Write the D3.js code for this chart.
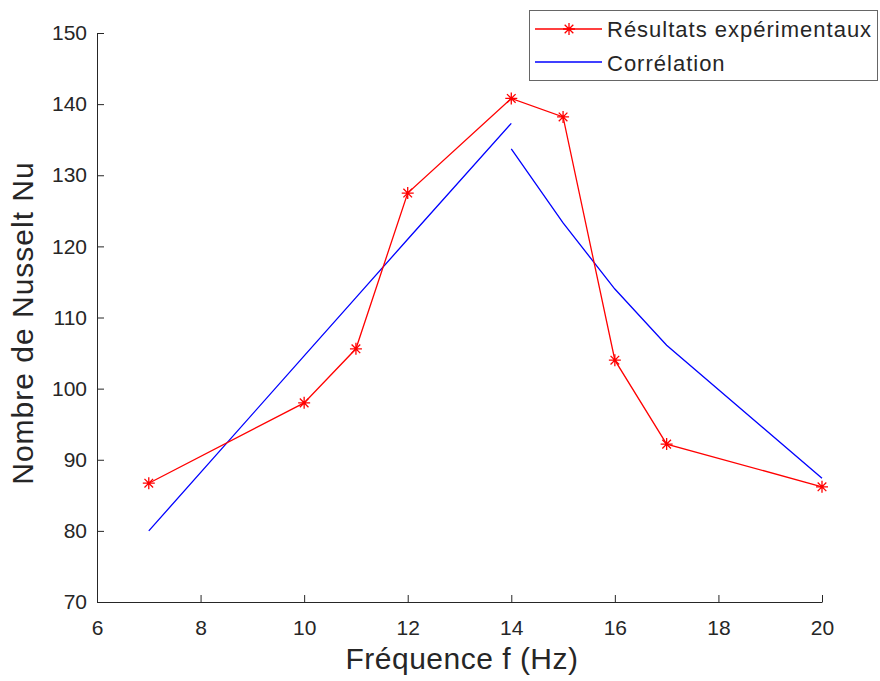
<!DOCTYPE html>
<html><head><meta charset="utf-8">
<script src="https://cdn.jsdelivr.net/npm/d3@7"></script>
<style>body{margin:0;background:#fff}svg{display:block}text{font-family:"Liberation Sans",Arial,sans-serif;fill:#262626}</style>
</head><body><svg id="c" width="880" height="681"></svg>
<script>
const expF = [7, 10, 11, 12, 14, 15, 16, 17, 20];
const expNu = [86.7, 98.0, 105.6, 127.5, 140.8, 138.2, 104.0, 92.2, 86.2];
const corrF1 = [7, 10, 11, 12, 14];
const corrNu1 = [80.0, 104.6, 112.8, 121.0, 137.3];
const corrF2 = [14, 15, 16, 17, 20];
const corrNu2 = [133.7, 123.3, 114.0, 106.1, 87.4];
const xTicks = [6, 8, 10, 12, 14, 16, 18, 20];
const yTicks = [70, 80, 90, 100, 110, 120, 130, 140, 150];

const svg = d3.select("#c");
const x = d3.scaleLinear().domain([6, 20]).range([97, 822]);
const y = d3.scaleLinear().domain([70, 150]).range([602, 33]);
const axCol = "#262626";

const gx = svg.append("g").attr("transform", "translate(0,602)")
  .call(d3.axisBottom(x).tickValues(xTicks).tickSizeInner(-7).tickSizeOuter(0).tickPadding(18));
const gy = svg.append("g").attr("transform", "translate(97,0)")
  .call(d3.axisLeft(y).tickValues(yTicks).tickSizeInner(-7).tickSizeOuter(0).tickPadding(10));
[gx, gy].forEach(g => {
  g.selectAll("path,line").attr("stroke", axCol).attr("stroke-width", 1);
  g.selectAll("text").attr("font-size", 21).attr("fill", axCol)
   .style("font-family", '"Liberation Sans",Arial,sans-serif');
});

svg.append("text").attr("x", 462).attr("y", 669).attr("text-anchor", "middle")
  .attr("font-size", 30).attr("letter-spacing", 0.5).text("Fréquence f (Hz)");
svg.append("text").attr("transform", "translate(33,323) rotate(-90)").attr("text-anchor", "middle")
  .attr("font-size", 30).attr("letter-spacing", 1).text("Nombre de Nusselt Nu");

const line = d3.line().x(d => x(d[0])).y(d => y(d[1]));
svg.append("path").datum(corrF1.map((f, i) => [f, corrNu1[i]]))
  .attr("d", line).attr("fill", "none").attr("stroke", "#0000ff").attr("stroke-width", 1.3);
svg.append("path").datum(corrF2.map((f, i) => [f, corrNu2[i]]))
  .attr("d", line).attr("fill", "none").attr("stroke", "#0000ff").attr("stroke-width", 1.3);
const expData = expF.map((f, i) => [f, expNu[i]]);
svg.append("path").datum(expData)
  .attr("d", line).attr("fill", "none").attr("stroke", "#ff0000").attr("stroke-width", 1.3);

function star(g, cx, cy, r) {
  const p = [];
  p.push(`M${cx-r},${cy}L${cx+r},${cy}`);
  p.push(`M${cx},${cy-r}L${cx},${cy+r}`);
  const d = r * 0.72;
  p.push(`M${cx-d},${cy-d}L${cx+d},${cy+d}`);
  p.push(`M${cx-d},${cy+d}L${cx+d},${cy-d}`);
  g.append("path").attr("d", p.join("")).attr("stroke", "#ff0000").attr("stroke-width", 1.3).attr("fill", "none");
}
const mg = svg.append("g");
expData.forEach(d => star(mg, x(d[0]), y(d[1]), 6));

// legend
const lg = svg.append("g");
lg.append("rect").attr("x", 529.5).attr("y", 10.5).attr("width", 348).attr("height", 70)
  .attr("fill", "#fff").attr("stroke", "#666").attr("stroke-width", 1);
lg.append("line").attr("x1", 535).attr("x2", 602).attr("y1", 29).attr("y2", 29)
  .attr("stroke", "#ff0000").attr("stroke-width", 1.3);
star(lg, 569, 29, 6);
lg.append("line").attr("x1", 535).attr("x2", 602).attr("y1", 62).attr("y2", 62)
  .attr("stroke", "#0000ff").attr("stroke-width", 1.3);
lg.append("text").attr("x", 607).attr("y", 37).attr("font-size", 22).attr("letter-spacing", 1).text("Résultats expérimentaux");
lg.append("text").attr("x", 607).attr("y", 71).attr("font-size", 22).attr("letter-spacing", 1).text("Corrélation");
</script></body></html>
